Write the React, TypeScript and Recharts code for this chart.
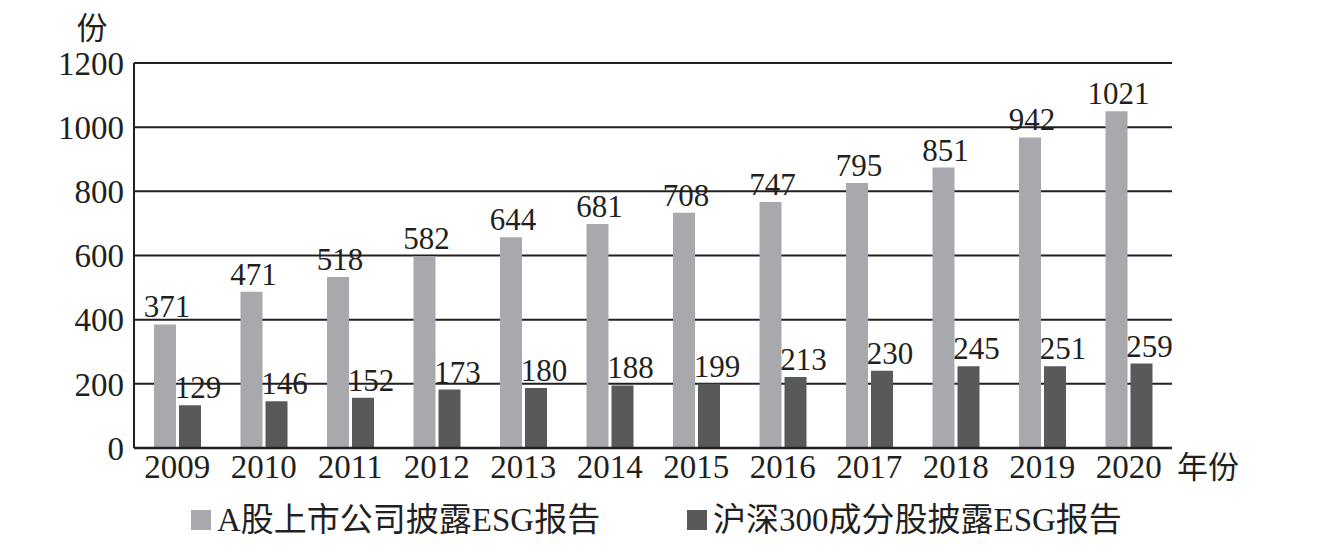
import React from 'react';
import { BarChart, Bar, XAxis, YAxis, CartesianGrid, LabelList, Legend } from 'recharts';

const years = ['2009', '2010', '2011', '2012', '2013', '2014', '2015', '2016', '2017', '2018', '2019', '2020'];
// bar heights as drawn in the picture
const listedValues = [385, 487, 533, 598, 657, 698, 733, 767, 826, 874, 968, 1050];
const csiValues = [133, 146, 157, 182, 187, 195, 200, 221, 241, 255, 255, 263];
// printed value labels
const listedLabels = ['371', '471', '518', '582', '644', '681', '708', '747', '795', '851', '942', '1021'];
const csiLabels = ['129', '146', '152', '173', '180', '188', '199', '213', '230', '245', '251', '259'];
const yTicks = [0, 200, 400, 600, 800, 1000, 1200];

const seriesNames = ['A股上市公司披露ESG报告', '沪深300成分股披露ESG报告'];
const LIGHT = '#a7a9ac';
const DARK = '#58595b';
const INK = '#231f20';
const FONT = "'Liberation Serif', 'Noto Sans CJK SC', serif";

const data = years.map((y, i) => ({
  year: y,
  listed: listedValues[i],
  csi: csiValues[i],
  listedLabel: listedLabels[i],
  csiLabel: csiLabels[i],
}));

const makeLabel = (dx: number) => (props: any) => {
  const vb = props.viewBox && props.viewBox.width !== undefined ? props.viewBox : props;
  const x = Number(vb.x);
  const y = Number(vb.y);
  const w = Number(vb.width);
  return (
    <text x={x + w / 2 + dx} y={y - 7} textAnchor="middle" fontSize={31} fontFamily={FONT} fill={INK}>
      {props.value}
    </text>
  );
};

const LegendContent = (props: any) => {
  const payload = props.payload || [];
  return (
    <div style={{ display: 'flex', alignItems: 'center', height: 40, paddingLeft: 191, fontFamily: FONT, fontSize: 33, color: INK }}>
      {payload.map((p: any, i: number) => (
        <div key={i} style={{ display: 'flex', alignItems: 'center', width: i === 0 ? 496 : 'auto' }}>
          <div style={{ width: 20, height: 20, background: p.color, marginRight: 6 }} />
          <span style={{ lineHeight: '40px', whiteSpace: 'nowrap' }}>{p.value}</span>
        </div>
      ))}
    </div>
  );
};

export default function App() {
  return (
    <div style={{ position: 'absolute', left: 0, top: 0, width: 1325, height: 556, background: '#fff' }}>
      <BarChart
        width={1325}
        height={556}
        data={data}
        margin={{ top: 63, right: 153, left: 0, bottom: 58 }}
        barSize={22}
        barGap={3}
      >
        <CartesianGrid horizontal vertical={false} stroke={INK} strokeWidth={2} />
        <XAxis
          dataKey="year"
          height={50}
          tickLine={false}
          tickSize={0}
          tickMargin={7}
          axisLine={{ stroke: INK, strokeWidth: 2.5 }}
          tick={{ fontSize: 33, fontFamily: FONT, fill: INK }}
          interval={0}
          label={{
            content: () => (
              <text x={1177} y={467} dominantBaseline="central" fontSize={31} fontFamily={FONT} fill={INK}>
                年份
              </text>
            ),
          }}
        />
        <YAxis
          width={134}
          domain={[0, 1200]}
          ticks={yTicks}
          interval={0}
          tickLine={false}
          tickSize={0}
          tickMargin={10}
          axisLine={{ stroke: INK, strokeWidth: 2 }}
          tick={{ fontSize: 33, fontFamily: FONT, fill: INK }}
          label={{
            content: () => (
              <text x={92} y={28} textAnchor="middle" dominantBaseline="central" fontSize={31} fontFamily={FONT} fill={INK}>
                份
              </text>
            ),
          }}
        />
        <Legend
          verticalAlign="middle"
          align="center"
          layout="horizontal"
          wrapperStyle={{ top: 500, left: 0, width: 1325 }}
          content={<LegendContent />}
        />
        <Bar dataKey="listed" name={seriesNames[0]} fill={LIGHT} isAnimationActive={false}>
          <LabelList dataKey="listedLabel" content={makeLabel(2)} />
        </Bar>
        <Bar dataKey="csi" name={seriesNames[1]} fill={DARK} isAnimationActive={false}>
          <LabelList dataKey="csiLabel" content={makeLabel(8)} />
        </Bar>
      </BarChart>
    </div>
  );
}
